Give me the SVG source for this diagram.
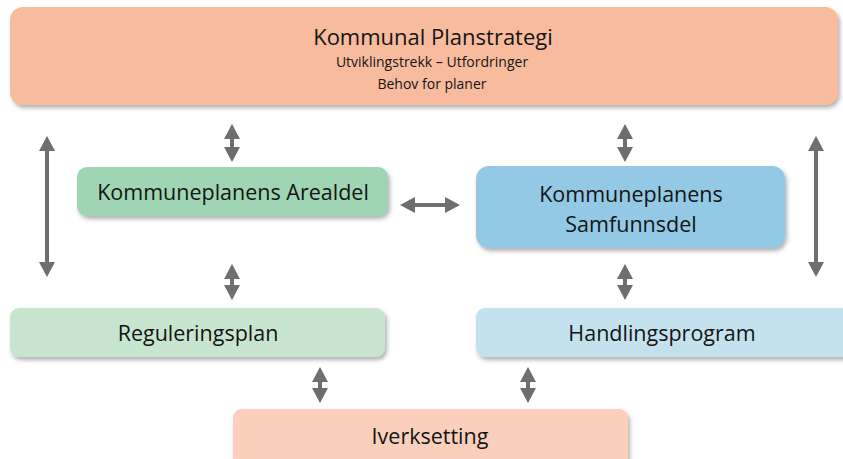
<svg xmlns="http://www.w3.org/2000/svg" width="843" height="459" viewBox="0 0 843 459">
  <style>
    .box { filter: url(#shadow); }
    .lbl { font-family: "Open Sans", "Noto Sans", "Liberation Sans", sans-serif; fill: #141414; text-anchor: middle; }
    .title { font-size: 22px; }
    .sub { font-size: 14px; }
    .main { font-size: 21.5px; }
    .link { stroke: #6e6e6e; stroke-width: 4; fill: none; marker-start: url(#head); marker-end: url(#head); }
  </style>
  <defs>
    <filter id="shadow" x="-5%" y="-20%" width="110%" height="150%">
      <feDropShadow dx="2" dy="3" stdDeviation="2" flood-color="#555" flood-opacity="0.45"/>
    </filter>
    <marker id="head" markerUnits="userSpaceOnUse" markerWidth="16" markerHeight="18" viewBox="0 -9 16 18" refX="0" refY="0" orient="auto-start-reverse">
      <path d="M0,-8 L15,0 L0,8 z" fill="#6e6e6e"/>
    </marker>
  </defs>
  <rect width="843" height="459" fill="#ffffff"/>

  <g id="planstrategi">
    <rect class="box" x="10" y="7" width="828" height="98" rx="13" fill="#f8bb9e"/>
    <text class="lbl title" x="433" y="45">Kommunal Planstrategi</text>
    <text class="lbl sub" x="432" y="67">Utviklingstrekk – Utfordringer</text>
    <text class="lbl sub" x="432" y="89">Behov for planer</text>
  </g>

  <g id="arealdel">
    <rect class="box" x="77" y="167" width="311" height="49" rx="10" fill="#9fd5b2"/>
    <text class="lbl main" x="233" y="200">Kommuneplanens Arealdel</text>
  </g>

  <g id="samfunnsdel">
    <rect class="box" x="476" y="166" width="309" height="82" rx="13" fill="#93c9e5"/>
    <text class="lbl main" x="631" y="202">Kommuneplanens</text>
    <text class="lbl main" x="631" y="232">Samfunnsdel</text>
  </g>

  <g id="reguleringsplan">
    <rect class="box" x="10" y="308" width="375" height="49" rx="9" fill="#c8e6cf"/>
    <text class="lbl main" x="198" y="341">Reguleringsplan</text>
  </g>

  <g id="handlingsprogram">
    <rect class="box" x="476" y="308" width="380" height="49" rx="9" fill="#c4e2ee"/>
    <text class="lbl main" x="662" y="341">Handlingsprogram</text>
  </g>

  <g id="iverksetting">
    <rect class="box" x="233" y="409" width="395" height="58" rx="9" fill="#fad0bd"/>
    <text class="lbl main" x="430" y="444">Iverksetting</text>
  </g>

  <g id="connectors">
    <line class="link" x1="47" y1="151" x2="47" y2="262"/>
    <line class="link" x1="816" y1="151" x2="816" y2="262"/>
    <line class="link" x1="232" y1="139" x2="232" y2="147"/>
    <line class="link" x1="625" y1="139" x2="625" y2="147"/>
    <line class="link" x1="415" y1="205" x2="445" y2="205"/>
    <line class="link" x1="232" y1="279" x2="232" y2="285"/>
    <line class="link" x1="625" y1="279" x2="625" y2="285"/>
    <line class="link" x1="320" y1="382" x2="320" y2="388"/>
    <line class="link" x1="528" y1="382" x2="528" y2="388"/>
  </g>
</svg>
